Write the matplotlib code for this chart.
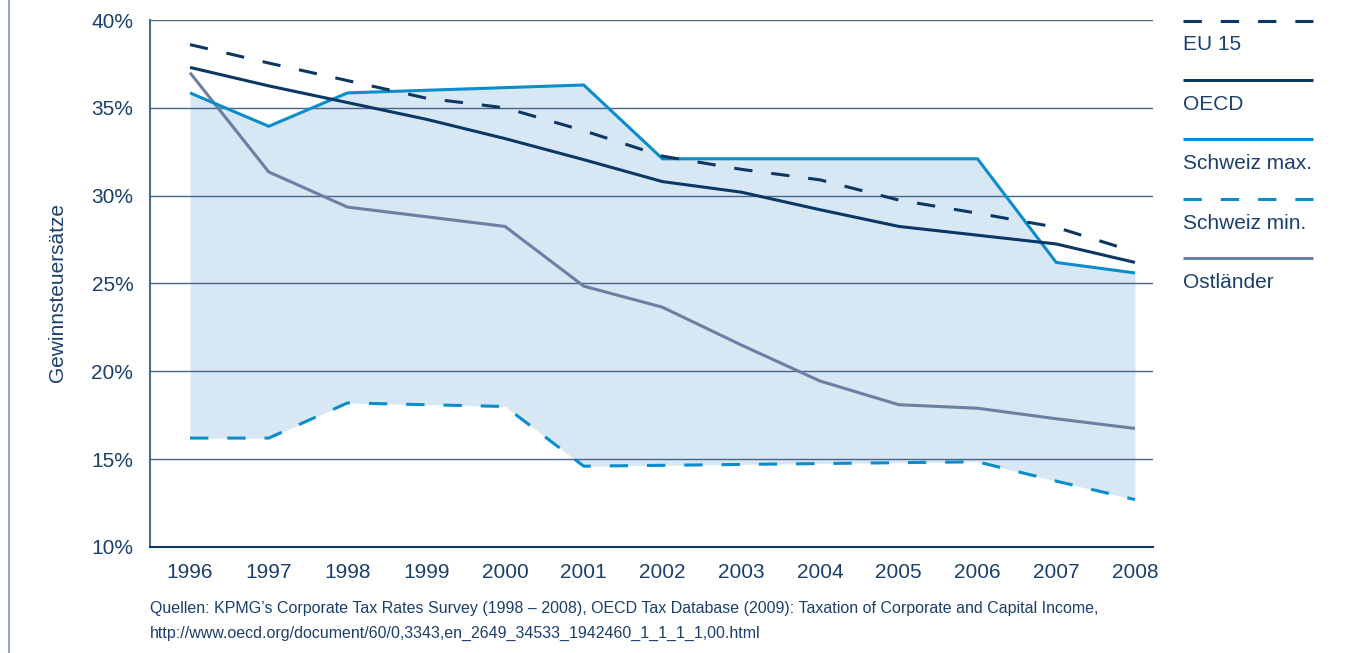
import matplotlib
matplotlib.use("Agg")
import matplotlib.pyplot as plt
from matplotlib.lines import Line2D
from matplotlib.ticker import FixedLocator, FuncFormatter

plt.rcParams['font.family'] = ['Liberation Sans', 'DejaVu Sans']

# Corporate income tax rates (%), 1996-2008
years = [1996, 1997, 1998, 1999, 2000, 2001, 2002, 2003, 2004, 2005, 2006, 2007, 2008]
eu15 = [38.6, 37.55, 36.55, 35.55, 35.0, 33.7, 32.25, 31.5, 30.9, 29.75, 29.0, 28.2, 26.8]
oecd = [37.3, 36.25, 35.3, 34.35, 33.25, 32.05, 30.8, 30.2, 29.2, 28.25, 27.75, 27.25, 26.2]
schweiz_max = [35.85, 33.95, 35.85, 36.0, 36.15, 36.3, 32.1, 32.1, 32.1, 32.1, 32.1, 26.2, 25.6]
schweiz_min = [16.2, 16.2, 18.2, 18.1, 18.0, 14.6, 14.65, 14.7, 14.75, 14.8, 14.85, 13.75, 12.7]
ostlaender = [37.0, 31.35, 29.35, 28.8, 28.25, 24.85, 23.65, 21.5, 19.45, 18.1, 17.9, 17.3, 16.75]

y_ticks = [10, 15, 20, 25, 30, 35, 40]
series_labels = ["EU 15", "OECD", "Schweiz max.", "Schweiz min.", "Ostländer"]

NAVY = '#0c3764'
CYAN = '#0a8dcb'
SLATE = '#6b7fa3'
FILL = '#d8e7f4'
TEXT = '#1b3f6c'
GRID = '#46658a'
FS = 15

W, H = 1363, 653
fig = plt.figure(figsize=(W / 100, H / 100), dpi=100)
ax = fig.add_axes([150 / W, 1 - 547 / H, (1153 - 150) / W, (547 - 20) / H])

ax.set_xlim(1995.492, 2008.229)
ax.set_ylim(10, 40)

# Swiss range band
ax.fill_between(years, schweiz_min, schweiz_max, color=FILL, lw=0, zorder=1)

# horizontal grid
for v in y_ticks[1:]:
    ax.axhline(v, color=GRID, lw=1.0, zorder=1.5)

lw = 2.2
dash = (0, (6.0, 6.2))
styles = [
    (eu15, NAVY, dash),
    (oecd, NAVY, '-'),
    (schweiz_max, CYAN, '-'),
    (schweiz_min, CYAN, dash),
    (ostlaender, SLATE, '-'),
]
for vals, col, ls in [styles[4], styles[2], styles[3], styles[1], styles[0]]:
    ax.plot(years, vals, color=col, lw=lw, ls=ls, solid_capstyle='butt',
            dash_capstyle='butt', solid_joinstyle='miter', zorder=3)

for s in ['top', 'right']:
    ax.spines[s].set_visible(False)
ax.spines['left'].set_color('#4c6d8f')
ax.spines['left'].set_linewidth(1.5)
ax.spines['bottom'].set_color(NAVY)
ax.spines['bottom'].set_linewidth(1.5)

ax.xaxis.set_major_locator(FixedLocator(years))
ax.yaxis.set_major_locator(FixedLocator(y_ticks))
ax.yaxis.set_major_formatter(FuncFormatter(lambda v, p: f"{int(v)}%"))
ax.tick_params(axis='both', length=0, labelsize=FS, labelcolor=TEXT)
ax.tick_params(axis='y', pad=12)
ax.tick_params(axis='x', pad=11.5)

fig.text(58 / W, 1 - 292 / H, "Gewinnsteuersätze", rotation=90,
         ha='center', va='center', fontsize=FS, color=TEXT)

# legend: line sample above each label
x0, x1 = 1183 / W, 1313 / W
for i, (lab, (vals, col, ls)) in enumerate(zip(series_labels, styles)):
    ly = 20.5 + i * 59.4
    fig.add_artist(Line2D([x0, x1], [1 - ly / H, 1 - ly / H], color=col, lw=lw,
                          ls=ls, solid_capstyle='butt', dash_capstyle='butt'))
    fig.text(x0, 1 - (ly + 30) / H, lab, ha='left', va='baseline',
             fontsize=FS, color=TEXT)

fig.text(150 / W, 1 - 608 / H,
         "Quellen: KPMG’s Corporate Tax Rates Survey (1998 – 2008), OECD Tax Database (2009): "
         "Taxation of Corporate and Capital Income,",
         ha='left', va='center', fontsize=11.5, color=TEXT)
fig.text(150 / W, 1 - 633 / H,
         "http://www.oecd.org/document/60/0,3343,en_2649_34533_1942460_1_1_1_1,00.html",
         ha='left', va='center', fontsize=11.5, color=TEXT)

# page border
fig.add_artist(Line2D([8.5 / W, 8.5 / W], [0, 1], color='#7d93ab', lw=1.2))

fig.savefig("out.png", dpi=100, facecolor='white')
